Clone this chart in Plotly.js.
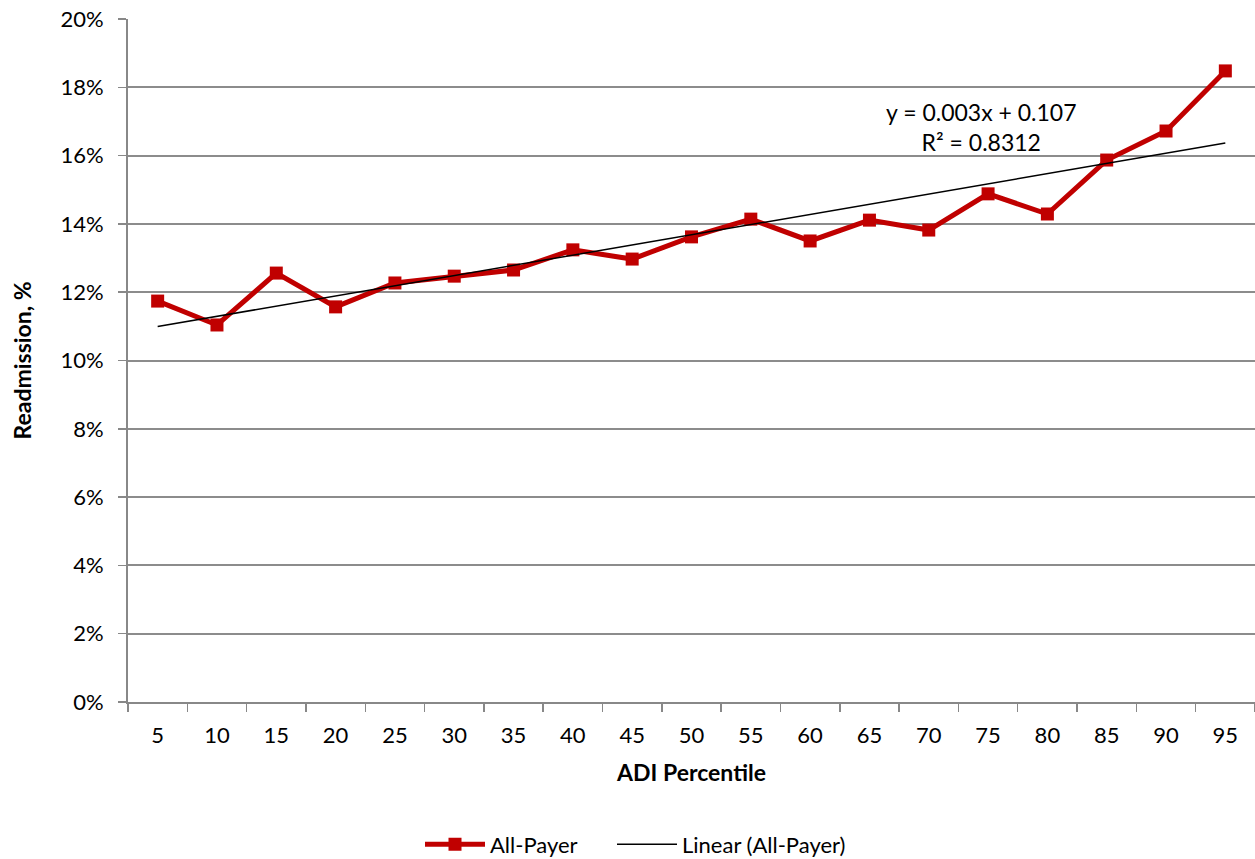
<!DOCTYPE html>
<html>
<head>
<meta charset="utf-8">
<script src="https://cdn.plot.ly/plotly-3.0.1.min.js"></script>
<style>html,body{margin:0;padding:0;background:#fff;}#chart{width:1255px;height:859px;}</style>
</head>
<body>
<div id="chart"></div>
<script>
const categories = ["5","10","15","20","25","30","35","40","45","50","55","60","65","70","75","80","85","90","95"];
const allPayer = [0.1174,0.1104,0.1256,0.1157,0.1227,0.1247,0.1265,0.1324,0.1297,0.1362,0.1414,0.1350,0.1411,0.1382,0.1488,0.1429,0.1587,0.1672,0.1848];
const yTickVals = [0,0.02,0.04,0.06,0.08,0.10,0.12,0.14,0.16,0.18,0.20];
const yTickText = ["0%","2%","4%","6%","8%","10%","12%","14%","16%","18%","20%"];
const equationText = "y = 0.003x + 0.107<br>R² = 0.8312";

// Linear least-squares trend (Excel-style, x = 1..n)
const n = allPayer.length;
const xs = allPayer.map((_, i) => i + 1);
const mx = xs.reduce((a, b) => a + b, 0) / n;
const my = allPayer.reduce((a, b) => a + b, 0) / n;
let sxy = 0, sxx = 0;
for (let i = 0; i < n; i++) { sxy += (xs[i] - mx) * (allPayer[i] - my); sxx += (xs[i] - mx) ** 2; }
const slope = sxy / sxx, intercept = my - slope * mx;
const trend = xs.map(x => intercept + slope * x);

const font = "Lato, 'Open Sans', sans-serif";
const fs = 22;

const data = [
  {x: categories, y: allPayer, name: "All-Payer", type: "scatter", mode: "lines+markers", legend: "legend",
   line: {color: "#C00000", width: 5}, marker: {symbol: "square", size: 13, color: "#C00000"}},
  {x: categories, y: trend, name: "Linear (All-Payer)", type: "scatter", mode: "lines", legend: "legend2",
   line: {color: "#000000", width: 1.5}}
];

const legendBase = {orientation: "h", xref: "container", xanchor: "left",
  y: 0.017, yref: "container", yanchor: "middle",
  font: {family: font, size: fs, color: "#000"}, itemwidth: 60};

const layout = {
  width: 1255, height: 859,
  margin: {l: 128, r: 0, t: 19, b: 157, autoexpand: false},
  paper_bgcolor: "#fff", plot_bgcolor: "#fff",
  font: {family: font, size: fs, color: "#000"},
  showlegend: true,
  legend: Object.assign({}, legendBase, {x: 420 / 1255}),
  legend2: Object.assign({}, legendBase, {x: 612 / 1255}),
  xaxis: {type: "category", range: [-0.5, 18.5], showgrid: false,
          showline: true, linecolor: "#888", linewidth: 2,
          ticks: "outside", tickson: "boundaries", ticklen: 8, tickcolor: "#888", tickwidth: 1.5,
          ticklabelstandoff: 13,
          tickfont: {family: font, size: fs, color: "#000"},
          title: {text: "<b>ADI Percentile</b>", font: {family: font, size: fs + 1, color: "#000"}, standoff: 17},
          zeroline: false, fixedrange: true},
  yaxis: {range: [0, 0.2], tickvals: yTickVals, ticktext: yTickText,
          showgrid: true, gridcolor: "#8c8c8c", gridwidth: 2,
          showline: true, linecolor: "#888", linewidth: 2,
          ticks: "outside", ticklen: 8, tickcolor: "#888", tickwidth: 1.5,
          ticklabelstandoff: 10,
          tickfont: {family: font, size: fs, color: "#000"},
          title: {text: "<b>Readmission, %</b>", font: {family: font, size: fs + 1, color: "#000"}, standoff: 22},
          zeroline: false, fixedrange: true},
  annotations: [
    {xref: "paper", yref: "paper", x: (981 - 128) / 1127, y: (702 - 127) / 683,
     text: equationText, showarrow: false, xanchor: "center", yanchor: "middle",
     align: "center", font: {family: font, size: fs + 1, color: "#000"}}
  ]
};

Plotly.newPlot("chart", data, layout, {displayModeBar: false, staticPlot: true});
</script>
</body>
</html>
